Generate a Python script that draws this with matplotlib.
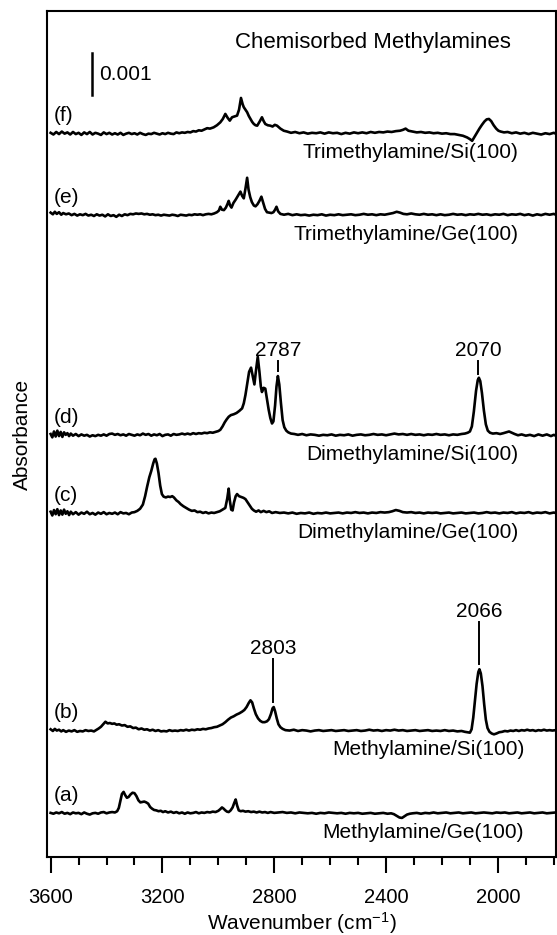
import numpy as np
import matplotlib.pyplot as plt
from matplotlib.ticker import MultipleLocator

plt.rcParams['font.family'] = ['Liberation Sans', 'DejaVu Sans']
plt.rcParams['mathtext.fontset'] = 'custom'
plt.rcParams['mathtext.rm'] = 'Liberation Sans'
plt.rcParams['mathtext.it'] = 'Liberation Sans:italic'

# IR spectra: (wavenumber / cm-1, absorbance / 1e-3), each relative to its own baseline
spec_a = [
    (3600, 0.00), (3590, -0.02), (3580, 0.01), (3570, -0.01), (3560, 0.02), (3550, -0.02), (3540, 0.00),
    (3530, -0.03), (3520, 0.01), (3510, -0.01), (3500, 0.00), (3490, -0.03), (3480, 0.01), (3470, -0.02),
    (3460, -0.04), (3450, -0.01), (3440, 0.00), (3430, -0.02), (3420, 0.01), (3410, 0.02), (3400, -0.01),
    (3390, 0.01), (3380, 0.02), (3370, 0.01), (3362, 0.04), (3356, 0.12), (3350, 0.30), (3345, 0.45),
    (3339, 0.50), (3333, 0.42), (3327, 0.36), (3321, 0.38), (3314, 0.44), (3307, 0.48), (3300, 0.47),
    (3293, 0.40), (3286, 0.30), (3279, 0.25), (3272, 0.26), (3265, 0.27), (3258, 0.25), (3251, 0.22),
    (3244, 0.14), (3237, 0.10), (3230, 0.07), (3222, 0.06), (3214, 0.04), (3206, 0.05), (3198, 0.02),
    (3190, 0.04), (3180, 0.01), (3170, 0.03), (3160, 0.00), (3150, 0.02), (3140, -0.01), (3130, 0.01),
    (3120, -0.02), (3110, 0.01), (3100, -0.01), (3090, 0.00), (3080, 0.02), (3070, -0.01), (3060, 0.01),
    (3050, 0.00), (3040, 0.02), (3030, 0.01), (3020, 0.03), (3010, 0.02), (3000, 0.05), (2993, 0.09),
    (2987, 0.13), (2981, 0.10), (2975, 0.06), (2969, 0.03), (2963, 0.02), (2956, 0.06), (2949, 0.13),
    (2943, 0.24), (2938, 0.32), (2933, 0.18), (2927, 0.06), (2920, 0.04), (2912, 0.05), (2903, 0.03),
    (2893, 0.04), (2883, 0.02), (2873, 0.03), (2863, 0.01), (2853, 0.03), (2843, 0.01), (2833, 0.02),
    (2823, 0.00), (2813, 0.02), (2800, 0.00), (2785, 0.01), (2770, 0.02), (2755, 0.00), (2740, 0.01),
    (2725, -0.01), (2710, 0.01), (2695, 0.00), (2680, -0.01), (2665, 0.00), (2650, -0.02), (2635, 0.00),
    (2620, -0.01), (2605, 0.01), (2590, 0.00), (2575, -0.01), (2560, 0.00), (2545, -0.02), (2530, 0.00),
    (2515, -0.01), (2500, 0.00), (2485, -0.02), (2470, -0.01), (2455, 0.00), (2440, -0.02), (2425, -0.01),
    (2410, 0.00), (2395, -0.02), (2382, -0.01), (2372, -0.03), (2362, -0.07), (2352, -0.11), (2343, -0.12),
    (2334, -0.08), (2325, -0.04), (2315, -0.02), (2305, -0.01), (2290, 0.00), (2275, -0.02), (2260, 0.00),
    (2245, -0.01), (2230, 0.01), (2215, -0.01), (2200, 0.00), (2185, 0.01), (2170, -0.01), (2155, 0.00),
    (2140, 0.01), (2125, -0.01), (2110, 0.00), (2095, 0.01), (2080, -0.01), (2065, 0.00), (2050, 0.01),
    (2035, 0.00), (2020, -0.01), (2005, 0.01), (1990, 0.00), (1975, 0.01), (1960, -0.01), (1945, 0.00),
    (1930, 0.01), (1915, -0.01), (1900, 0.00), (1885, 0.01), (1870, -0.01), (1855, 0.00), (1840, 0.01),
    (1825, -0.01), (1810, 0.00), (1793, 0.01),
]

spec_b = [
    (3600, 0.02), (3592, -0.02), (3585, 0.03), (3578, -0.01), (3570, 0.01), (3562, -0.03), (3555, 0.00),
    (3545, -0.04), (3535, -0.01), (3525, -0.03), (3515, 0.00), (3505, -0.04), (3495, -0.02), (3485, -0.03),
    (3475, 0.00), (3465, -0.02), (3455, -0.01), (3445, -0.03), (3435, 0.01), (3428, 0.04), (3420, 0.08),
    (3412, 0.14), (3404, 0.20), (3396, 0.16), (3388, 0.17), (3380, 0.15), (3372, 0.16), (3364, 0.13),
    (3355, 0.14), (3345, 0.11), (3335, 0.12), (3325, 0.08), (3315, 0.09), (3305, 0.05), (3295, 0.06),
    (3285, 0.02), (3275, 0.04), (3265, 0.01), (3255, 0.02), (3245, -0.01), (3235, 0.01), (3225, -0.02),
    (3215, 0.00), (3205, -0.03), (3195, -0.02), (3185, -0.03), (3175, 0.00), (3165, -0.02), (3155, -0.01),
    (3145, -0.02), (3135, 0.00), (3125, -0.01), (3115, 0.01), (3105, -0.01), (3095, 0.01), (3085, 0.00),
    (3075, 0.02), (3065, 0.01), (3055, 0.03), (3045, 0.02), (3035, 0.04), (3025, 0.05), (3015, 0.07),
    (3005, 0.08), (2995, 0.11), (2985, 0.14), (2975, 0.19), (2965, 0.25), (2955, 0.30), (2945, 0.33),
    (2935, 0.37), (2925, 0.40), (2915, 0.44), (2907, 0.48), (2899, 0.55), (2891, 0.65), (2885, 0.71),
    (2879, 0.66), (2873, 0.52), (2866, 0.38), (2858, 0.28), (2850, 0.22), (2842, 0.19), (2834, 0.19),
    (2826, 0.21), (2819, 0.26), (2812, 0.38), (2806, 0.52), (2802, 0.55), (2797, 0.45), (2791, 0.28),
    (2785, 0.14), (2778, 0.07), (2770, 0.03), (2760, 0.00), (2745, -0.01), (2730, 0.01), (2715, -0.02),
    (2700, 0.00), (2685, -0.01), (2670, -0.03), (2655, -0.01), (2640, 0.00), (2625, -0.02), (2610, -0.01),
    (2595, 0.00), (2580, -0.02), (2565, -0.01), (2550, 0.00), (2535, -0.02), (2520, -0.01), (2505, 0.00),
    (2490, -0.02), (2475, -0.01), (2460, 0.01), (2445, -0.01), (2430, 0.00), (2415, -0.02), (2400, 0.00),
    (2385, -0.01), (2370, 0.01), (2355, -0.01), (2340, 0.00), (2325, -0.02), (2310, -0.01), (2295, 0.00),
    (2280, -0.02), (2265, -0.01), (2250, 0.00), (2235, -0.02), (2220, -0.01), (2205, -0.02), (2190, 0.00),
    (2175, -0.02), (2160, -0.01), (2145, -0.03), (2130, -0.02), (2118, -0.04), (2108, -0.05), (2100, -0.06),
    (2094, 0.02), (2088, 0.30), (2082, 0.70), (2076, 1.10), (2070, 1.38), (2066, 1.45), (2061, 1.35),
    (2055, 1.05), (2049, 0.62), (2043, 0.25), (2037, 0.05), (2030, -0.04), (2022, -0.08), (2014, -0.10),
    (2005, -0.08), (1995, -0.05), (1985, -0.04), (1975, -0.02), (1965, -0.03), (1955, -0.01), (1945, -0.02),
    (1935, 0.00), (1925, -0.02), (1915, 0.00), (1905, -0.01), (1895, 0.01), (1885, -0.01), (1875, 0.00),
    (1865, -0.02), (1855, 0.00), (1845, -0.01), (1835, 0.01), (1825, -0.01), (1815, 0.00), (1805, -0.01),
    (1793, 0.00),
]

spec_c = [
    (3600, 0.03), (3594, -0.06), (3588, 0.07), (3582, -0.03), (3576, 0.09), (3570, -0.05), (3564, 0.06),
    (3558, -0.04), (3552, 0.08), (3546, -0.02), (3540, 0.04), (3534, -0.05), (3528, 0.03), (3520, -0.03),
    (3510, 0.02), (3500, -0.04), (3490, 0.01), (3480, -0.02), (3470, 0.03), (3460, -0.03), (3450, 0.00),
    (3440, -0.04), (3430, 0.01), (3420, -0.02), (3410, 0.02), (3400, -0.03), (3390, 0.00), (3380, -0.02),
    (3370, 0.01), (3360, -0.03), (3350, 0.02), (3340, -0.01), (3330, 0.00), (3320, -0.03), (3310, 0.01),
    (3300, 0.02), (3290, 0.05), (3280, 0.10), (3270, 0.20), (3262, 0.40), (3255, 0.62), (3247, 0.85),
    (3240, 1.00), (3233, 1.18), (3228, 1.28), (3225, 1.29), (3220, 1.18), (3214, 0.95), (3208, 0.65),
    (3202, 0.45), (3196, 0.39), (3188, 0.37), (3180, 0.39), (3172, 0.38), (3165, 0.40), (3159, 0.37),
    (3150, 0.30), (3142, 0.26), (3135, 0.21), (3125, 0.16), (3115, 0.12), (3105, 0.08), (3095, 0.05),
    (3085, 0.06), (3075, 0.02), (3065, 0.03), (3055, 0.00), (3045, 0.02), (3035, -0.01), (3025, 0.01),
    (3015, 0.00), (3005, 0.02), (2995, 0.04), (2985, 0.08), (2975, 0.12), (2968, 0.35), (2963, 0.58),
    (2959, 0.30), (2954, 0.08), (2949, 0.06), (2944, 0.25), (2938, 0.40), (2933, 0.45), (2926, 0.40),
    (2918, 0.38), (2910, 0.36), (2903, 0.33), (2895, 0.25), (2887, 0.17), (2880, 0.10), (2873, 0.06),
    (2865, 0.03), (2856, 0.06), (2848, 0.02), (2838, 0.05), (2828, 0.02), (2818, 0.04), (2808, 0.00),
    (2795, 0.02), (2780, 0.00), (2765, 0.01), (2750, -0.01), (2735, 0.01), (2720, -0.02), (2705, 0.00),
    (2690, -0.01), (2675, 0.01), (2660, -0.02), (2645, 0.00), (2630, -0.01), (2615, 0.01), (2600, -0.01),
    (2585, 0.00), (2570, 0.01), (2555, -0.01), (2540, 0.01), (2525, 0.00), (2510, 0.02), (2495, 0.00),
    (2480, 0.01), (2465, -0.01), (2450, 0.01), (2435, 0.00), (2420, 0.02), (2405, 0.01), (2390, 0.02),
    (2378, 0.04), (2365, 0.07), (2352, 0.05), (2340, 0.02), (2325, 0.01), (2310, 0.02), (2295, 0.00),
    (2280, 0.01), (2265, -0.01), (2250, 0.01), (2235, 0.00), (2220, 0.01), (2205, -0.01), (2190, 0.00),
    (2175, 0.01), (2160, -0.01), (2145, 0.00), (2130, 0.01), (2115, -0.01), (2100, 0.00), (2085, 0.01),
    (2070, -0.01), (2055, 0.00), (2040, 0.02), (2025, 0.00), (2010, 0.01), (1995, -0.01), (1980, 0.01),
    (1965, 0.00), (1950, 0.02), (1935, -0.01), (1920, 0.01), (1905, 0.00), (1890, 0.02), (1875, -0.01),
    (1860, 0.01), (1845, 0.00), (1830, 0.02), (1815, -0.01), (1800, 0.01), (1793, 0.00),
]

spec_d = [
    (3600, 0.02), (3594, -0.06), (3588, 0.08), (3582, -0.04), (3576, 0.10), (3570, -0.03), (3564, 0.07),
    (3558, -0.05), (3552, 0.06), (3546, 0.00), (3540, 0.04), (3534, -0.03), (3528, 0.03), (3520, -0.02),
    (3510, 0.02), (3500, -0.03), (3490, 0.01), (3480, -0.02), (3470, 0.00), (3460, -0.04), (3450, -0.01),
    (3440, -0.03), (3430, 0.00), (3420, -0.02), (3410, 0.01), (3400, -0.02), (3390, 0.02), (3380, 0.03),
    (3370, 0.00), (3360, 0.02), (3350, -0.01), (3340, 0.01), (3330, -0.02), (3320, 0.02), (3310, 0.00),
    (3300, -0.02), (3290, 0.01), (3280, -0.01), (3270, 0.03), (3260, 0.00), (3250, 0.02), (3240, -0.02),
    (3230, 0.01), (3220, -0.01), (3210, 0.02), (3200, -0.03), (3190, 0.00), (3180, 0.01), (3170, -0.02),
    (3160, 0.02), (3150, 0.00), (3140, 0.01), (3130, 0.03), (3120, 0.01), (3110, 0.03), (3100, 0.01),
    (3090, 0.04), (3080, 0.02), (3070, 0.04), (3060, 0.03), (3050, 0.05), (3040, 0.04), (3030, 0.06),
    (3020, 0.05), (3010, 0.07), (3000, 0.09), (2993, 0.12), (2985, 0.20), (2977, 0.30), (2970, 0.37),
    (2963, 0.43), (2955, 0.47), (2945, 0.49), (2935, 0.52), (2925, 0.57), (2915, 0.63), (2909, 0.75),
    (2903, 0.95), (2896, 1.25), (2890, 1.50), (2883, 1.60), (2877, 1.40), (2871, 1.20), (2865, 1.55),
    (2859, 1.86), (2853, 1.50), (2848, 1.15), (2844, 1.02), (2838, 1.12), (2832, 1.10), (2826, 0.85),
    (2820, 0.60), (2814, 0.40), (2808, 0.27), (2803, 0.32), (2797, 0.70), (2792, 1.15), (2787, 1.40),
    (2782, 1.20), (2776, 0.75), (2770, 0.35), (2764, 0.18), (2757, 0.10), (2750, 0.06), (2740, 0.03),
    (2728, 0.02), (2715, 0.00), (2700, 0.02), (2685, -0.01), (2670, 0.01), (2655, 0.00), (2640, -0.02),
    (2625, 0.00), (2610, -0.01), (2595, 0.01), (2580, -0.02), (2565, 0.00), (2550, -0.01), (2535, 0.01),
    (2520, -0.02), (2505, 0.00), (2490, 0.01), (2475, -0.01), (2460, 0.00), (2445, 0.02), (2430, 0.00),
    (2415, 0.01), (2400, -0.01), (2385, 0.01), (2370, 0.03), (2355, 0.01), (2340, 0.02), (2325, 0.00),
    (2310, 0.02), (2295, 0.00), (2280, 0.01), (2265, -0.01), (2250, 0.01), (2235, 0.00), (2220, 0.02),
    (2205, 0.00), (2190, 0.01), (2175, -0.01), (2160, 0.01), (2145, 0.00), (2130, 0.02), (2118, 0.03),
    (2108, 0.05), (2100, 0.08), (2093, 0.20), (2086, 0.55), (2078, 1.05), (2072, 1.30), (2068, 1.36),
    (2063, 1.28), (2057, 1.00), (2050, 0.58), (2043, 0.25), (2036, 0.10), (2028, 0.05), (2018, 0.03),
    (2005, 0.04), (1992, 0.02), (1980, 0.04), (1970, 0.06), (1960, 0.08), (1950, 0.05), (1940, 0.02),
    (1928, -0.01), (1915, 0.01), (1900, -0.02), (1885, 0.00), (1870, -0.03), (1855, 0.01), (1840, -0.02),
    (1825, 0.01), (1810, -0.03), (1800, 0.00), (1793, -0.02),
]

spec_e = [
    (3600, 0.05), (3592, 0.01), (3585, 0.07), (3578, 0.02), (3570, 0.06), (3562, 0.00), (3555, 0.04),
    (3545, 0.01), (3535, 0.03), (3525, -0.01), (3515, 0.02), (3505, -0.02), (3495, 0.01), (3485, -0.01),
    (3475, 0.02), (3465, -0.02), (3455, 0.00), (3445, -0.03), (3435, 0.01), (3425, -0.02), (3415, 0.00),
    (3405, -0.04), (3395, 0.01), (3385, -0.03), (3375, -0.01), (3365, -0.05), (3355, 0.00), (3345, -0.03),
    (3335, 0.01), (3325, -0.01), (3315, 0.02), (3305, 0.01), (3295, 0.03), (3285, 0.02), (3275, 0.03),
    (3265, 0.01), (3255, 0.02), (3245, 0.00), (3235, 0.01), (3225, -0.01), (3215, 0.00), (3205, -0.02),
    (3195, 0.00), (3185, -0.01), (3175, -0.02), (3165, 0.00), (3155, -0.01), (3145, -0.03), (3135, 0.00),
    (3125, -0.01), (3115, -0.02), (3105, 0.00), (3095, -0.01), (3085, 0.01), (3075, 0.00), (3065, 0.01),
    (3055, -0.01), (3045, 0.01), (3035, 0.02), (3025, 0.01), (3015, 0.03), (3005, 0.06), (2998, 0.10),
    (2993, 0.19), (2987, 0.12), (2980, 0.11), (2973, 0.17), (2967, 0.26), (2963, 0.33), (2958, 0.22),
    (2953, 0.17), (2946, 0.28), (2938, 0.36), (2930, 0.45), (2924, 0.52), (2921, 0.55), (2915, 0.45),
    (2909, 0.39), (2903, 0.62), (2897, 0.88), (2892, 0.60), (2886, 0.42), (2880, 0.30), (2873, 0.22),
    (2867, 0.20), (2860, 0.25), (2853, 0.33), (2846, 0.43), (2840, 0.30), (2833, 0.14), (2826, 0.06),
    (2818, 0.05), (2810, 0.04), (2803, 0.06), (2797, 0.12), (2792, 0.19), (2786, 0.08), (2778, 0.02),
    (2765, 0.00), (2750, 0.02), (2735, -0.01), (2720, 0.01), (2705, -0.01), (2690, 0.00), (2675, -0.02),
    (2660, 0.00), (2645, -0.01), (2630, 0.01), (2615, -0.02), (2600, 0.00), (2585, -0.01), (2570, 0.01),
    (2555, -0.01), (2540, 0.00), (2525, 0.01), (2510, -0.01), (2495, 0.00), (2480, 0.02), (2465, 0.00),
    (2450, 0.01), (2435, -0.01), (2420, 0.01), (2405, 0.00), (2390, 0.02), (2375, 0.04), (2362, 0.07),
    (2350, 0.05), (2338, 0.02), (2325, 0.01), (2310, 0.03), (2295, 0.01), (2280, 0.00), (2265, 0.02),
    (2250, 0.00), (2235, 0.01), (2220, -0.01), (2205, 0.01), (2190, -0.01), (2175, 0.00), (2160, 0.02),
    (2145, 0.00), (2130, 0.01), (2115, -0.01), (2100, 0.01), (2085, 0.00), (2070, 0.02), (2055, 0.00),
    (2040, 0.01), (2025, -0.01), (2010, 0.01), (1995, 0.00), (1980, 0.02), (1965, -0.01), (1950, 0.01),
    (1935, 0.00), (1920, 0.02), (1905, -0.01), (1890, 0.01), (1875, -0.02), (1860, 0.01), (1845, -0.01),
    (1830, 0.02), (1815, 0.00), (1800, 0.02), (1793, 0.00),
]

spec_f = [
    (3600, 0.00), (3590, -0.04), (3580, 0.02), (3570, -0.03), (3560, 0.03), (3550, -0.02), (3540, 0.01),
    (3530, -0.04), (3520, 0.02), (3510, -0.03), (3500, 0.00), (3490, -0.05), (3480, 0.01), (3470, -0.03),
    (3460, 0.02), (3450, -0.04), (3440, 0.00), (3430, -0.02), (3420, -0.05), (3410, 0.01), (3400, -0.03),
    (3390, 0.00), (3380, -0.04), (3370, -0.01), (3360, -0.04), (3350, 0.00), (3340, -0.05), (3330, -0.02),
    (3320, 0.00), (3310, -0.03), (3300, -0.01), (3290, -0.04), (3280, 0.00), (3270, -0.03), (3260, -0.05),
    (3250, -0.02), (3240, -0.03), (3230, 0.00), (3220, -0.02), (3210, -0.04), (3200, -0.01), (3190, -0.03),
    (3180, 0.00), (3170, -0.02), (3160, -0.03), (3150, 0.01), (3140, -0.01), (3130, 0.01), (3120, 0.00),
    (3110, 0.02), (3100, 0.01), (3090, 0.04), (3080, 0.03), (3070, 0.06), (3060, 0.05), (3050, 0.08),
    (3040, 0.11), (3030, 0.10), (3017, 0.13), (3005, 0.18), (2993, 0.25), (2984, 0.33), (2975, 0.45),
    (2967, 0.36), (2959, 0.29), (2951, 0.37), (2942, 0.39), (2933, 0.41), (2926, 0.55), (2919, 0.83),
    (2913, 0.68), (2909, 0.61), (2903, 0.55), (2897, 0.49), (2891, 0.40), (2885, 0.33), (2879, 0.26),
    (2873, 0.21), (2867, 0.18), (2861, 0.17), (2852, 0.27), (2844, 0.37), (2838, 0.28), (2832, 0.21),
    (2823, 0.18), (2814, 0.17), (2806, 0.15), (2798, 0.19), (2790, 0.17), (2778, 0.10), (2766, 0.05),
    (2754, 0.03), (2740, 0.00), (2725, 0.02), (2710, -0.01), (2695, 0.01), (2680, -0.02), (2665, 0.00),
    (2650, -0.01), (2635, 0.01), (2620, -0.02), (2605, 0.01), (2590, -0.01), (2575, 0.00), (2560, -0.03),
    (2545, 0.00), (2530, -0.02), (2515, 0.01), (2500, -0.01), (2485, 0.01), (2470, -0.01), (2455, 0.02),
    (2440, 0.00), (2425, 0.02), (2410, 0.01), (2395, 0.03), (2380, 0.02), (2365, 0.04), (2350, 0.05),
    (2340, 0.07), (2330, 0.10), (2320, 0.05), (2305, 0.03), (2290, 0.01), (2275, 0.02), (2260, 0.00),
    (2245, 0.01), (2230, -0.01), (2215, 0.00), (2200, -0.02), (2185, -0.01), (2170, -0.03), (2155, -0.03),
    (2140, -0.05), (2125, -0.07), (2110, -0.11), (2100, -0.15), (2092, -0.19), (2084, -0.10), (2075, 0.00),
    (2066, 0.10), (2057, 0.19), (2048, 0.27), (2040, 0.32), (2032, 0.33), (2024, 0.28), (2015, 0.18),
    (2006, 0.10), (1998, 0.05), (1990, 0.03), (1978, 0.01), (1965, 0.02), (1950, -0.01), (1935, 0.01),
    (1920, -0.02), (1905, 0.00), (1890, -0.03), (1875, 0.00), (1860, -0.02), (1845, -0.04), (1830, -0.01),
    (1815, -0.03), (1800, 0.00), (1793, -0.02),
]

spectra = [spec_a, spec_b, spec_c, spec_d, spec_e, spec_f]
offsets = [1.05, 3.02, 8.19, 10.05, 15.29, 17.24]   # stacking offsets, 1e-3 absorbance
letters = ['(a)', '(b)', '(c)', '(d)', '(e)', '(f)']
names = ['Methylamine/Ge(100)', 'Methylamine/Si(100)',
         'Dimethylamine/Ge(100)', 'Dimethylamine/Si(100)',
         'Trimethylamine/Ge(100)', 'Trimethylamine/Si(100)']
# labelled peaks: (spectrum index, wavenumber)
marked = [(1, 2803), (1, 2066), (3, 2787), (3, 2070)]

fig = plt.figure(figsize=(5.57, 9.35), dpi=100)
ax = fig.add_axes([47 / 557, 78 / 935, 509 / 557, 846 / 935])

for spec, off in zip(spectra, offsets):
    wn, a = np.array(spec).T
    ax.plot(wn, a + off, color='black', lw=1.9, solid_joinstyle='round')

name_x = [1906, 1906, 1927, 1927, 1927, 1927]
for i, off in enumerate(offsets):
    ax.text(3588, off + 0.42, letters[i], fontsize=15, ha='left', va='center')
    ax.text(name_x[i], off - 0.47, names[i], fontsize=15, ha='right', va='center')

line_len = {2803: 1.02, 2066: 1.0, 2787: 0.22, 2070: 0.26}
for i, w in marked:
    wn, a = np.array(spectra[i]).T
    peak = offsets[i] + np.interp(w, wn[::-1], a[::-1])
    y0 = peak + 0.12
    y1 = y0 + line_len[w]
    if i == 3:
        y1 = 11.81
    ax.plot([w, w], [y0, y1], color='black', lw=1.4)
    ax.text(w, y1 + 0.25, str(w), fontsize=15, ha='center', va='center')

# scale bar: 0.001 absorbance
ax.plot([3452, 3452], [18.14, 19.14], color='black', lw=1.8)
ax.text(3427, 18.64, '0.001', fontsize=15, ha='left', va='center')

ax.text(0.64, 0.963, 'Chemisorbed Methylamines', transform=ax.transAxes,
        fontsize=16, ha='center', va='center')

ax.set_xlim(3613, 1792)
ax.set_ylim(0, 20.14)
ax.xaxis.set_major_locator(MultipleLocator(400))
ax.xaxis.set_minor_locator(MultipleLocator(100))
ax.tick_params(axis='x', which='major', direction='out', length=11.5, width=1.5,
               labelsize=14.5, pad=11)
ax.tick_params(axis='x', which='minor', direction='out', length=5.8, width=1.5)
ax.set_yticks([])
for s in ax.spines.values():
    s.set_linewidth(1.5)

ax.set_xlabel('Wavenumber (cm$^{-1}$)', fontsize=15, labelpad=2)
fig.text(22 / 557, 1 - 434 / 935, 'Absorbance', rotation=90, fontsize=15,
         ha='center', va='center')

fig.savefig('out.png', dpi=100)
